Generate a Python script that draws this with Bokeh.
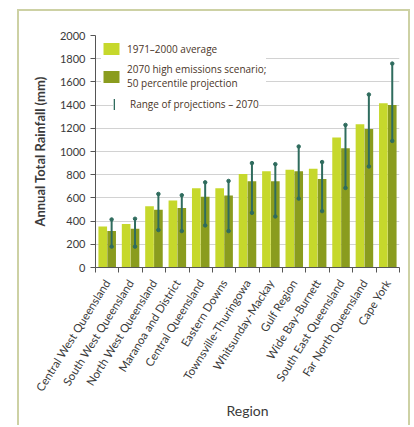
import math
from bokeh.plotting import figure
from bokeh.models import (ColumnDataSource, FixedTicker, Legend, LegendItem)
from bokeh.transform import dodge
from bokeh.embed import file_html
from bokeh.resources import INLINE

regions = ["Central West Queensland", "South West Queensland", "North West Queensland",
           "Maranoa and District", "Central Queensland", "Eastern Downs",
           "Townsville-Thuringowa", "Whitsunday-Mackay", "Gulf Region",
           "Wide Bay-Burnett", "South East Queensland", "Far North Queensland", "Cape York"]
avg_1971_2000 = [354, 374, 529, 577, 683, 683, 806, 829, 843, 851, 1120, 1234, 1417]
proj_2070 = [314, 334, 497, 514, 609, 620, 743, 743, 829, 763, 1029, 1194, 1400]
range_low = [180, 180, 323, 314, 363, 314, 471, 440, 594, 486, 686, 871, 1091]
range_high = [414, 420, 634, 623, 734, 746, 900, 891, 1043, 909, 1229, 1491, 1758]
y_ticks = [0, 200, 400, 600, 800, 1000, 1200, 1400, 1600, 1800, 2000]

LIGHT = "#c6d82c"
DARK = "#8a9c1e"
TEAL = "#2f6c5e"
TXT = "#3a3a3a"
LEG_TXT = "#4a3528"
FRAME = "#cdd1a4"
FONT = "Lato"
LFONT = "Open Sans"

centers = [i + 0.5 for i in range(len(regions))]
src = ColumnDataSource(dict(x=centers, region=regions, avg=avg_1971_2000, proj=proj_2070,
                            lo=range_low, hi=range_high))

p = figure(width=393, height=416, x_range=(0, len(regions)), y_range=(0, 2000),
           output_backend="svg", toolbar_location=None,
           min_border_left=76, min_border_right=13, min_border_top=24, min_border_bottom=160)
p.styles = {"margin-left": "17px", "margin-top": "9px",
            "border-left": f"2px solid {FRAME}", "border-top": f"2px solid {FRAME}",
            "border-right": f"2px solid {FRAME}"}
p.outline_line_color = None
p.background_fill_color = "white"
p.border_fill_color = "white"

light = p.vbar(x=dodge("x", -0.19, range=p.x_range), top="avg", width=0.37, source=src,
               fill_color=LIGHT, line_color=None)
dark = p.vbar(x=dodge("x", 0.19, range=p.x_range), top="proj", width=0.37, source=src,
              fill_color=DARK, line_color=None)
p.segment(x0=dodge("x", 0.19, range=p.x_range), y0="lo", x1=dodge("x", 0.19, range=p.x_range),
          y1="hi", source=src, line_color=TEAL, line_width=2)
p.scatter(x=dodge("x", 0.19, range=p.x_range), y="hi", source=src, size=3.5, color=TEAL)
p.scatter(x=dodge("x", 0.19, range=p.x_range), y="lo", source=src, size=3.5, color=TEAL)

# hidden renderer used only as the legend key of the projection range
key = p.vbar(x=dodge("x", 0.19, range=p.x_range), top="hi", bottom="lo", width=0.05,
             source=src, fill_color=TEAL, line_color=None, visible=False)

# axes
p.yaxis.ticker = FixedTicker(ticks=y_ticks)
p.yaxis.axis_label = "Annual Total Rainfall (mm)"
p.yaxis.axis_label_text_font = FONT
p.yaxis.axis_label_text_font_size = "13px"
p.yaxis.axis_label_text_font_style = "bold"
p.yaxis.axis_label_text_color = TXT
p.yaxis.axis_label_standoff = 9
p.yaxis.major_label_text_font = FONT
p.yaxis.major_label_text_font_size = "11px"
p.yaxis.major_label_text_color = TXT
p.yaxis.major_tick_out = 5
p.yaxis.major_tick_in = 0
p.yaxis.minor_tick_out = 0
p.yaxis.minor_tick_in = 0
p.yaxis.axis_line_color = "#555555"
p.yaxis.major_tick_line_color = "#555555"

p.xaxis.ticker = FixedTicker(ticks=centers, minor_ticks=list(range(len(regions) + 1)))
p.xaxis.major_label_overrides = {c: r for c, r in zip(centers, regions)}
p.xaxis.major_label_orientation = math.radians(58)
p.xaxis.major_label_text_font = FONT
p.xaxis.major_label_text_font_size = "11.5px"
p.xaxis.major_label_text_color = TXT
p.xaxis.major_label_standoff = 8
p.xaxis.major_tick_out = 0
p.xaxis.major_tick_in = 0
p.xaxis.minor_tick_out = 5
p.xaxis.minor_tick_in = 0
p.xaxis.axis_line_color = "#555555"
p.xaxis.minor_tick_line_color = "#555555"
p.xaxis.axis_label = "Region"
p.xaxis.axis_label_text_font = FONT
p.xaxis.axis_label_text_font_size = "14px"
p.xaxis.axis_label_text_font_style = "normal"
p.xaxis.axis_label_text_color = TXT
p.xaxis.axis_label_standoff = 2

p.xgrid.visible = False
p.ygrid.ticker = FixedTicker(ticks=y_ticks)
p.ygrid.grid_line_color = "#d2d2d2"
p.ygrid.grid_line_width = 1

# legends
legA = Legend(items=[LegendItem(label="1971–2000 average", renderers=[light]),
                     LegendItem(label="2070 high emissions scenario;\n50 percentile projection",
                                renderers=[dark])],
              location="top_left", margin=6, padding=6, spacing=6,
              glyph_width=20, glyph_height=15, label_standoff=6, label_height=15,
              label_text_font=LFONT, label_text_font_size="10px", label_text_color=LEG_TXT,
              border_line_color=None, background_fill_color="white", background_fill_alpha=1)
legB = Legend(items=[LegendItem(label="Range of projections – 2070", renderers=[key])],
              location=(18, 156), margin=0, padding=0,
              glyph_width=2, glyph_height=14, label_standoff=15, label_height=14,
              label_text_font=LFONT, label_text_font_size="10px", label_text_color=LEG_TXT,
              inactive_fill_alpha=0,
              border_line_color=None, background_fill_color="white", background_fill_alpha=1)
p.add_layout(legA)
p.add_layout(legB)

open("out.html", "w").write(file_html(p, INLINE))
